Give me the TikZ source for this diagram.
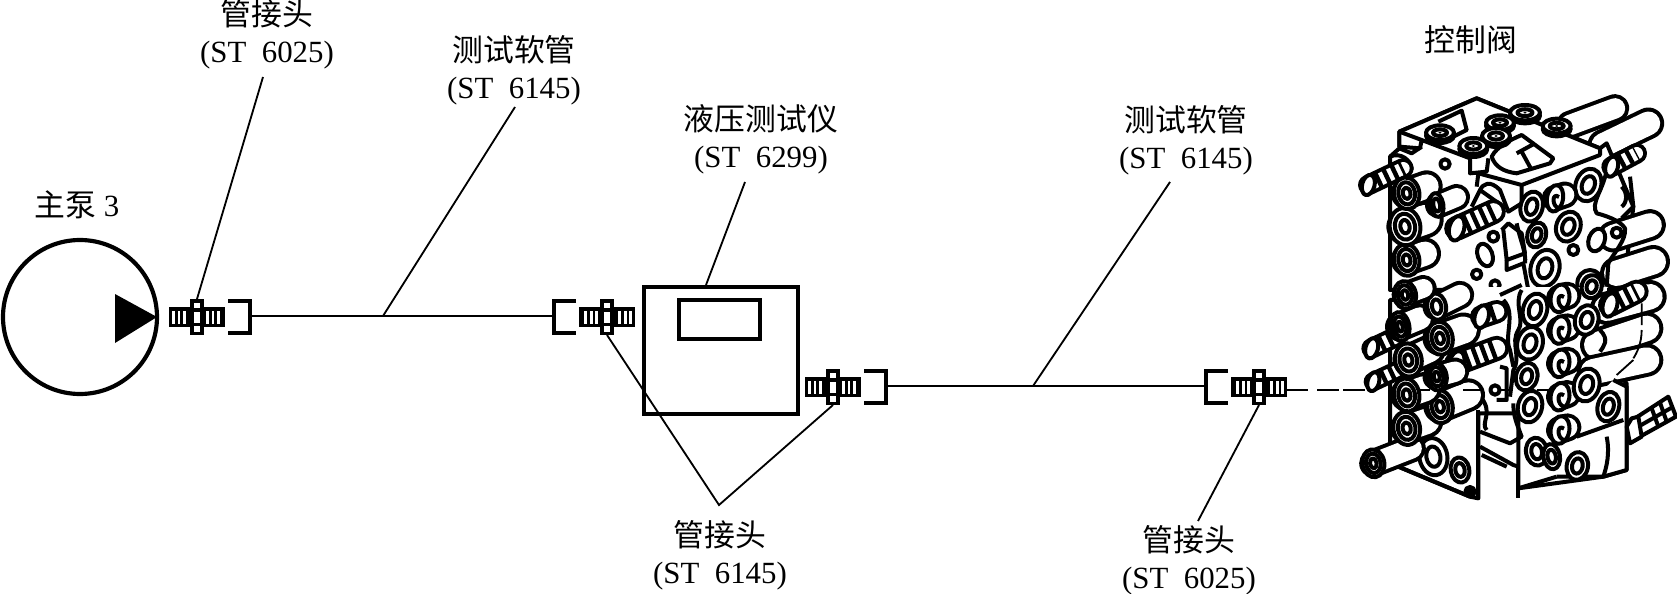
\documentclass[tikz,border=0pt]{standalone}
\usepackage{fontspec}
\setmainfont{Liberation Serif}
\newfontfamily\cjk{Noto Sans CJK SC}
\newcommand\lblfont{\fontsize{18.5}{22.4}\selectfont\lineskiplimit -20pt\relax}
\newcommand\Capsule[5]{%
  \draw[line width={#5*0.2pt},line cap=round,black] (#1,#2)--(#3,#4);
  \draw[line width={(#5-24)*0.2pt},line cap=round,white] (#1,#2)--(#3,#4);}
\newcommand\Thr[5]{%
  \Capsule{#1}{#2}{#3}{#4}{#5}
  \draw[line width={(#5-6)*0.2pt},dash pattern=on 2.7pt off 2.7pt,black] (#1,#2)--(#3,#4);
  \draw[vl,fill=white] (#1,#2) circle[x radius={#5*0.3},y radius={#5*0.5},rotate=-15];}
\newcommand\Ell[5]{\draw[vl,fill=white] (#1,#2) circle[x radius=#3,y radius=#4,rotate=#5];}
\newcommand\RingA[5]{\Ell{#1}{#2}{#3}{#4}{#5}
  \draw[vl] (#1,#2) circle[x radius={#3*0.5},y radius={#4*0.55},rotate=#5];}
\newcommand\RingB[5]{\Ell{#1}{#2}{#3}{#4}{#5}
  \draw[vl] (#1,#2) circle[x radius={#3*0.66},y radius={#4*0.7},rotate=#5];
  \draw[vl] (#1,#2) circle[x radius={#3*0.3},y radius={#4*0.36},rotate=#5];}
\newcommand\CapRing[5]{% x y rx ry : cap toward the right
  \Capsule{#1}{#2}{#1+#5}{#2-#5*0.35}{#4*2}
  \RingB{#1}{#2}{#3}{#4}{10}}
\newcommand\CapFace[5]{% a cap on the valve face
  \Capsule{#1}{#2}{#1+#5}{#2-#5*0.35}{#4*2}
  \Ell{#1}{#2}{#3}{#4}{-10}
  \draw[vl] (#1+12,#2-4) .. controls (#1-10,#2-20) and (#1-10,#2+25) .. (#1+12,#2+30);}
\newcommand\Disc[4]{%
  \draw[vl,fill=white] (#1,#2+9) circle[x radius=#3,y radius=#4];
  \draw[vl,fill=white] (#1,#2) circle[x radius=#3,y radius=#4];
  \draw[vl] (#1,#2) circle[x radius={#3*0.5},y radius={#4*0.45}];
  \fill (#1,#2) circle[x radius=5,y radius=3];}
\tikzset{
  thin line/.style={line width=1.1pt,black},
  heavy/.style={line width=2.5pt,black},
  vl/.style={line width=2.4pt,black,line join=round},
  lbl/.style={align=center,inner sep=0pt,font=\lblfont},
  fitting/.pic={
    \fill[black] (-28,-10) rectangle (28,10);
    \foreach \s in {-25,-19.5,-14,9,14.5,20}{\fill[white] (\s,-6.5) rectangle (\s+2.8,6.5);}
    \fill[black] (-7,-18) rectangle (7,18);
    \fill[white] (-3,-14.5) rectangle (3,-9);
    \fill[white] (-3,-5.5) rectangle (3,5.5);
    \fill[white] (-3,9) rectangle (3,14.5);
    \draw[heavy] (31,-16) -- (53,-16) -- (53,16) -- (31,16);
    \coordinate (-up) at (0,-18);
    \coordinate (-down) at (0,18);
    \coordinate (-tip) at (28,0);
    \coordinate (-hose) at (53,-1);
  }
}
\begin{document}
\begin{tikzpicture}[x=0.6pt,y=-0.6pt]
\useasboundingbox (0,0) rectangle (1677,594);
% pump
\node[draw,heavy,circle,minimum size={154*0.6pt},inner sep=0pt,fill=white] (pump) at (80,317) {};
\fill[black] (115,294) -- (157,317) -- (115,343) -- cycle;
% instrument
\node[draw,heavy,fill=white,minimum width={154*0.6pt},minimum height={127*0.6pt},inner sep=0pt] (tester) at (721,350.5) {};
\node[draw,line width=2.1pt,minimum width={81*0.6pt},minimum height={39*0.6pt},inner sep=0pt] (screen) at (719.5,319.5) {};
% fittings
\pic (f1) at (197,317) {fitting};
\pic[xscale=-1] (f2) at (607,317) {fitting};
\pic (f3) at (833,387) {fitting};
\pic[xscale=-1] (f4) at (1259,387) {fitting};
% hoses
\draw[thin line] (f1-hose) -- (f2-hose);
\draw[thin line] (f3-hose) -- (f4-hose);
\coordinate (dashend) at (1365,390);
\coordinate (dashstart) at (1286,390);
\draw[thin line,dash pattern=on 13.2pt off 5.4pt] (dashstart) -- (dashend);
% labels
\node[lbl] (a) at (267,34) {{\cjk 管接头}\\(ST\ \ 6025)};
\node[lbl] (b) at (514,70) {{\cjk 测试软管}\\(ST\ \ 6145)};
\node[lbl] (c) at (77,205) {{\cjk 主泵} 3};
\node[lbl] (d) at (761,139) {{\cjk 液压测试仪}\\(ST\ \ 6299)};
\node[lbl] (e) at (1186,140) {{\cjk 测试软管}\\(ST\ \ 6145)};
\node[lbl] (g) at (1471,40) {{\cjk 控制阀}};
\node[lbl] (h) at (720,555) {{\cjk 管接头}\\(ST\ \ 6145)};
\node[lbl] (i) at (1189,560) {{\cjk 管接头}\\(ST\ \ 6025)};
% leaders
\coordinate (a1) at (263,77);
\coordinate (b1) at (515,107);
\coordinate (b2) at (383,316);
\coordinate (d1) at (745,182);
\coordinate (d2) at (706,285);
\coordinate (e1) at (1170,182);
\coordinate (e2) at (1033,386);
\coordinate (h1) at (719,505);
\coordinate (i1) at (1198,521);
\draw[thin line] (a1) -- (f1-up);
\draw[thin line] (b1) -- (b2);
\draw[thin line] (d1) -- (d2);
\draw[thin line] (e1) -- (e2);
\draw[thin line] (f2-down) -- (h1) -- (f3-down);
\draw[thin line] (f4-down) -- (i1);
% valve, upper half (coordinates of the first enlarged crop)
\begin{scope}[shift={(1340,90)},x=0.2pt,y=-0.2pt]
  \Capsule{690}{105}{825}{55}{85}
  \Capsule{790}{165}{925}{100}{95}
  % body
  \draw[vl,fill=white] (178,125) -- (178,175) -- (150,200) -- (150,600) -- (850,600) -- (880,350) -- (800,160) -- (780,175) -- (410,25) -- cycle;
  \Capsule{820}{440}{930}{405}{95}
  \Capsule{830}{550}{940}{515}{100}
  \draw[vl,fill=white] (178,125) -- (410,25) -- (780,175) -- (780,195) -- (545,285) -- (415,250) -- (390,205) -- (245,150) -- (240,175) -- (178,170) -- cycle;
  \draw[vl] (178,125) -- (245,150);
  \draw[vl] (295,95) -- (365,62) -- (380,120) -- (340,140);
  \draw[vl,fill=white] (455,200) .. controls (470,170) and (510,150) .. (545,135) -- (640,205) -- (630,220) -- (530,250) .. controls (490,245) and (465,230) .. (455,200) -- cycle;
  \draw[vl] (530,190) -- (585,160) (545,185) -- (575,240);
  \draw[vl,fill=white] (390,205) -- (390,250) -- (440,245) -- (445,205);
  \draw[vl] (178,175) -- (215,190) -- (245,170) (150,200) .. controls (180,185) and (215,210) .. (215,240);
  \Disc{555}{68}{45}{23}
  \Disc{480}{98}{42}{22}
  \Disc{650}{108}{42}{22}
  \Disc{300}{128}{42}{22}
  \Disc{468}{138}{42}{24}
  \Disc{400}{168}{42}{24}
  \draw[vl] (545,285) -- (545,340) -- (505,365) -- (480,300) .. controls (450,270) and (430,280) .. (420,300) -- (395,350);
  \draw[vl] (415,250) -- (410,290) (420,300) -- (490,350);
  \draw[vl,fill=white] (315,222) circle[radius=14];
  % gasket plate
  \draw[vl] (800,240) .. controls (790,300) and (750,340) .. (770,370) .. controls (790,375) and (840,390) .. (855,415) .. controls (860,450) and (820,490) .. (805,520) -- (800,590);
  \draw[vl] (845,290) .. controls (865,310) and (860,340) .. (845,350);
  \draw[vl] (870,260) -- (880,350) -- (845,385);
  % central column
  \draw[vl] (485,420) -- (505,400) -- (545,430) -- (555,490) -- (500,510) -- (490,420);
  \draw[vl] (500,510) -- (500,540) -- (550,520) -- (565,600);
  \draw[vl] (530,400) .. controls (540,450) and (560,490) .. (555,520);
  \RingA{575}{350}{33}{46}{-15}
  \RingA{745}{285}{38}{50}{-20}
  \RingA{590}{435}{28}{38}{-15}
  \RingA{685}{410}{36}{46}{-20}
  \RingA{615}{535}{43}{56}{-15}
  \RingA{750}{580}{38}{40}{0}
  \Ell{700}{480}{15}{15}{0}
  \Ell{770}{450}{24}{35}{-20}
  \Ell{830}{428}{15}{15}{0}
  \Ell{435}{495}{22}{35}{20}
  \Ell{460}{440}{15}{15}{0}
  \Ell{410}{553}{14}{14}{0}
  \Ell{465}{585}{14}{14}{0}
  \CapFace{645}{325}{24}{40}{30}
  % threads and caps, left side
  \Thr{85}{285}{190}{235}{62}
  \Thr{815}{230}{890}{190}{62}
  \CapRing{200}{510}{38}{48}{55}
  \CapRing{195}{410}{46}{56}{60}
  \CapRing{200}{310}{38}{48}{60}
  \Capsule{295}{345}{350}{322}{80}
  \RingA{290}{345}{20}{36}{10}
  \Thr{350}{415}{460}{365}{75}
\end{scope}
% valve, lower half (coordinates of the second enlarged crop)
\begin{scope}[shift={(1340,280)},x=0.2pt,y=-0.2pt]
  \draw[vl,fill=white] (150,60) -- (150,500) -- (175,560) -- (390,650) -- (415,655) -- (415,400) -- (535,400) -- (535,625) -- (790,590) -- (860,570) -- (860,310) -- (820,270) -- (790,200) -- (810,40) -- (410,40) -- cycle;
  \fill[white] (395,20) rectangle (800,50);
  \Capsule{800}{85}{930}{50}{100}
  \Capsule{770}{195}{920}{145}{100}
  \Capsule{760}{275}{920}{240}{100}
  \fill[white] (820,300) -- (860,320) -- (860,570) -- (790,590) -- (730,470) -- (720,400) -- cycle;
  \draw[vl] (820,300) -- (860,320) -- (860,570) -- (790,590) -- (650,590);
  \draw[vl] (415,390) -- (415,655);
  \draw[vl] (535,560) -- (535,655);
  \draw[vl] (420,455) -- (510,490) -- (545,470) .. controls (530,430) and (520,410) .. (520,370);
  \draw[vl] (420,500) -- (520,555) -- (535,560) (425,525) -- (500,560);
  \draw[vl] (480,260) -- (500,265) -- (500,360) -- (470,360);
  \draw[vl] (490,60) .. controls (530,100) and (490,170) .. (510,210) -- (520,260);
  \draw[vl] (545,30) .. controls (520,70) and (555,120) .. (535,150) .. controls (510,190) and (545,230) .. (520,270) -- (510,350);
  \draw[vl] (480,45) -- (545,15);
  \draw[vl,fill=white] (465,330) circle[radius=14];
  \draw[vl] (425,355) .. controls (460,400) and (420,430) .. (440,450);
  \draw[vl] (535,625) -- (650,590) (710,470) -- (850,420) (800,470) .. controls (810,520) and (800,560) .. (790,590);
  \draw[vl] (780,150) .. controls (810,180) and (790,200) .. (780,215);
  \RingA{585}{90}{36}{50}{-15}
  \RingA{570}{190}{38}{50}{-15}
  \RingA{560}{290}{32}{42}{-15}
  \RingA{570}{380}{36}{48}{-15}
  \CapFace{660}{55}{28}{42}{22}
  \CapFace{660}{150}{28}{42}{22}
  \CapFace{660}{250}{28}{42}{22}
  \CapFace{660}{350}{28}{42}{22}
  \CapFace{660}{450}{28}{42}{22}
  \RingA{755}{20}{30}{35}{-15}
  \RingA{740}{120}{35}{45}{-15}
  \RingA{740}{315}{38}{50}{-15}
  \RingA{805}{380}{32}{45}{-15}
  \RingA{590}{515}{32}{42}{10}
  \RingA{635}{530}{25}{38}{10}
  \RingA{712}{558}{32}{42}{-10}
  \Thr{810}{75}{890}{35}{72}
  \draw[thin line] (905,70) -- (905,135) (905,150) .. controls (905,190) and (890,220) .. (880,235) (880,240) -- (830,285);
  % bolt
  \draw[vl,fill=white] (885,415) -- (985,350) -- (1008,410) -- (900,470) -- cycle;
  \draw[vl] (935,385) -- (955,440) (960,368) -- (980,425) (895,440) -- (1000,380);
  \draw[vl,fill=white] (875,415) -- (895,410) -- (905,470) -- (870,490) -- (860,440) -- cycle;
  % left
  \RingA{280}{530}{42}{56}{10}
  \RingA{360}{570}{28}{38}{10}
  \RingA{390}{635}{14}{14}{0}
  \draw[vl] (175,560) -- (390,650);
  \Capsule{100}{550}{215}{505}{85}
  \RingB{100}{550}{33}{42}{10}
  \CapRing{200}{445}{40}{50}{60}
  \Capsule{300}{380}{385}{345}{100}
  \RingB{300}{380}{38}{50}{10}
  \CapRing{200}{345}{38}{50}{55}
  \Thr{350}{250}{470}{205}{75}
  \Capsule{290}{290}{345}{275}{85}
  \RingB{290}{290}{30}{42}{10}
  \Thr{100}{305}{175}{270}{58}
  \Capsule{205}{240}{270}{210}{95}
  \RingB{205}{240}{40}{50}{10}
  \Thr{95}{205}{165}{172}{62}
  \Capsule{300}{175}{370}{150}{105}
  \RingB{300}{175}{38}{50}{10}
  \Capsule{180}{140}{240}{115}{90}
  \RingB{180}{140}{28}{44}{10}
  \Capsule{290}{80}{360}{45}{85}
  \RingA{290}{80}{28}{40}{10}
  \Thr{425}{110}{470}{95}{70}
  \Capsule{195}{45}{250}{25}{80}
  \RingB{195}{45}{33}{42}{10}
  \draw[thin line] (10,330) -- (70,330) (240,330) -- (270,330) (370,330) -- (430,330) (480,330) -- (510,330) (590,330) -- (640,330);
\end{scope}
\end{tikzpicture}
\end{document}
